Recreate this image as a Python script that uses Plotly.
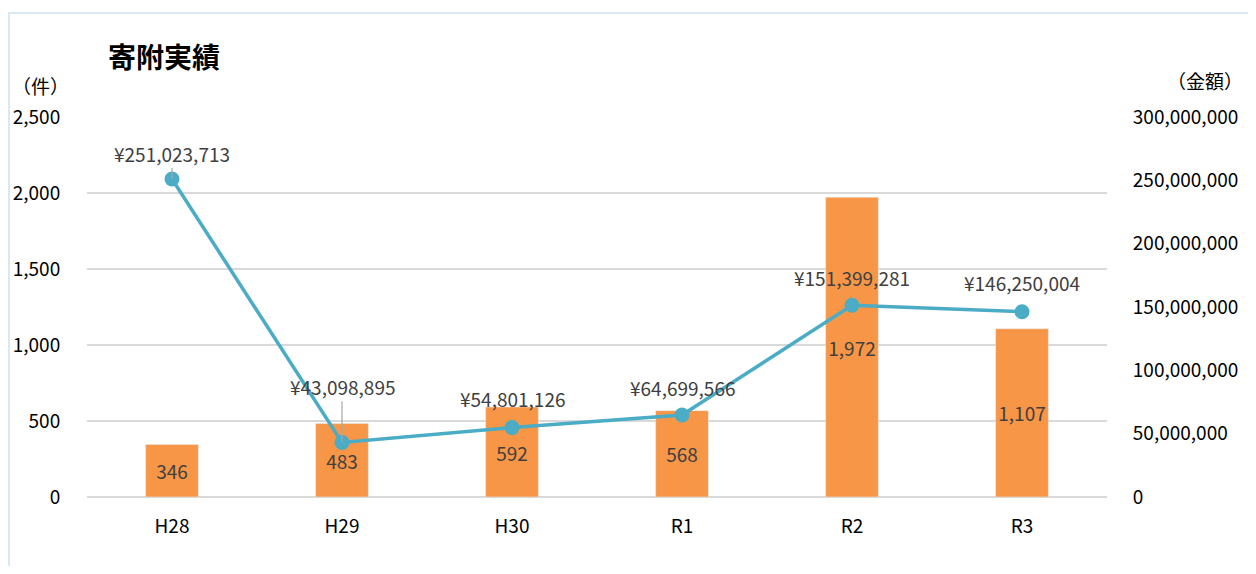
import plotly.graph_objects as go

YEARS = ["H28", "H29", "H30", "R1", "R2", "R3"]
COUNTS = [346, 483, 592, 568, 1972, 1107]
AMOUNTS = [251023713, 43098895, 54801126, 64699566, 151399281, 146250004]

# label offsets above points (px); H28 and H29 have leader lines in the original
LABEL_OFFSET = [26, 56, 29, 28, 28, 29]
LEADER = [True, True, False, False, False, False]

FONT = "Noto Sans CJK JP"
LABEL_COLOR = "#404040"

# page body has an 8px margin, so the figure is sized to fit inside it
W, H = 1240, 558

fig = go.Figure()

fig.add_trace(
    go.Bar(
        x=YEARS,
        y=COUNTS,
        name="件数",
        marker_color="#F79646",
        width=0.31,
        text=[f"{v:,}" for v in COUNTS],
        textposition="inside",
        insidetextanchor="middle",
        textangle=0,
        constraintext="none",
        textfont=dict(size=19, color=LABEL_COLOR, family=FONT),
        yaxis="y",
    )
)

fig.add_trace(
    go.Scatter(
        x=YEARS,
        y=AMOUNTS,
        name="金額",
        mode="lines+markers",
        line=dict(color="#4BACC6", width=3.5),
        marker=dict(size=15, color="#4BACC6"),
        yaxis="y2",
    )
)

for yr, amt, off, leader in zip(YEARS, AMOUNTS, LABEL_OFFSET, LEADER):
    common = dict(
        x=yr,
        y=amt,
        xref="x",
        yref="y2",
        text=f"¥{amt:,}",
        font=dict(size=19, color=LABEL_COLOR, family=FONT),
    )
    if leader:
        fig.add_annotation(
            **common,
            showarrow=True,
            arrowhead=0,
            arrowwidth=1.2,
            arrowcolor="#a6a6a6",
            ax=0,
            ay=-off,
        )
    else:
        fig.add_annotation(**common, showarrow=False, yanchor="middle", yshift=off)

# axis unit labels
fig.add_annotation(
    x=-0.046, y=1.084, xref="paper", yref="paper", text="（件）",
    xanchor="center", yanchor="middle",
    showarrow=False, font=dict(size=19, color="#000000", family=FONT),
)
fig.add_annotation(
    x=1.096, y=1.097, xref="paper", yref="paper", text="（金額）",
    xanchor="center", yanchor="middle",
    showarrow=False, font=dict(size=19, color="#000000", family=FONT),
)

# chart area border
fig.add_shape(
    type="rect", xref="paper", yref="paper",
    x0=-0.0765, x1=1.3, y0=-0.4, y1=1.2737,
    line=dict(color="#dae8f0", width=2), layer="below",
)

fig.update_layout(
    width=W,
    height=H,
    paper_bgcolor="white",
    plot_bgcolor="white",
    showlegend=False,
    margin=dict(l=79, r=W - 1099, t=109, b=H - 489),
    title=dict(
        text="<b>寄附実績</b>",
        x=100 / W,
        xanchor="left",
        y=1 - 50 / H,
        yanchor="middle",
        font=dict(size=28, color="#000000", family=FONT),
    ),
    font=dict(family=FONT, size=19, color="#000000"),
    xaxis=dict(
        automargin=False,
        showgrid=False,
        showline=False,
        ticks="outside",
        ticklen=12,
        tickcolor="white",
        tickfont=dict(size=19, color="#000000"),
    ),
    yaxis=dict(
        automargin=False,
        range=[0, 2500],
        dtick=500,
        tickformat=",",
        showgrid=True,
        gridcolor="#d9d9d9",
        gridwidth=1.5,
        zeroline=True,
        zerolinecolor="#d9d9d9",
        zerolinewidth=1.5,
        ticks="outside",
        ticklen=22,
        tickcolor="white",
        tickfont=dict(size=19, color="#000000"),
    ),
    yaxis2=dict(
        automargin=False,
        range=[0, 300000000],
        dtick=50000000,
        tickformat=",",
        overlaying="y",
        side="right",
        showgrid=False,
        zeroline=False,
        ticks="outside",
        ticklen=21,
        tickcolor="white",
        tickfont=dict(size=19, color="#000000"),
    ),
)

fig.write_html("out.html")
